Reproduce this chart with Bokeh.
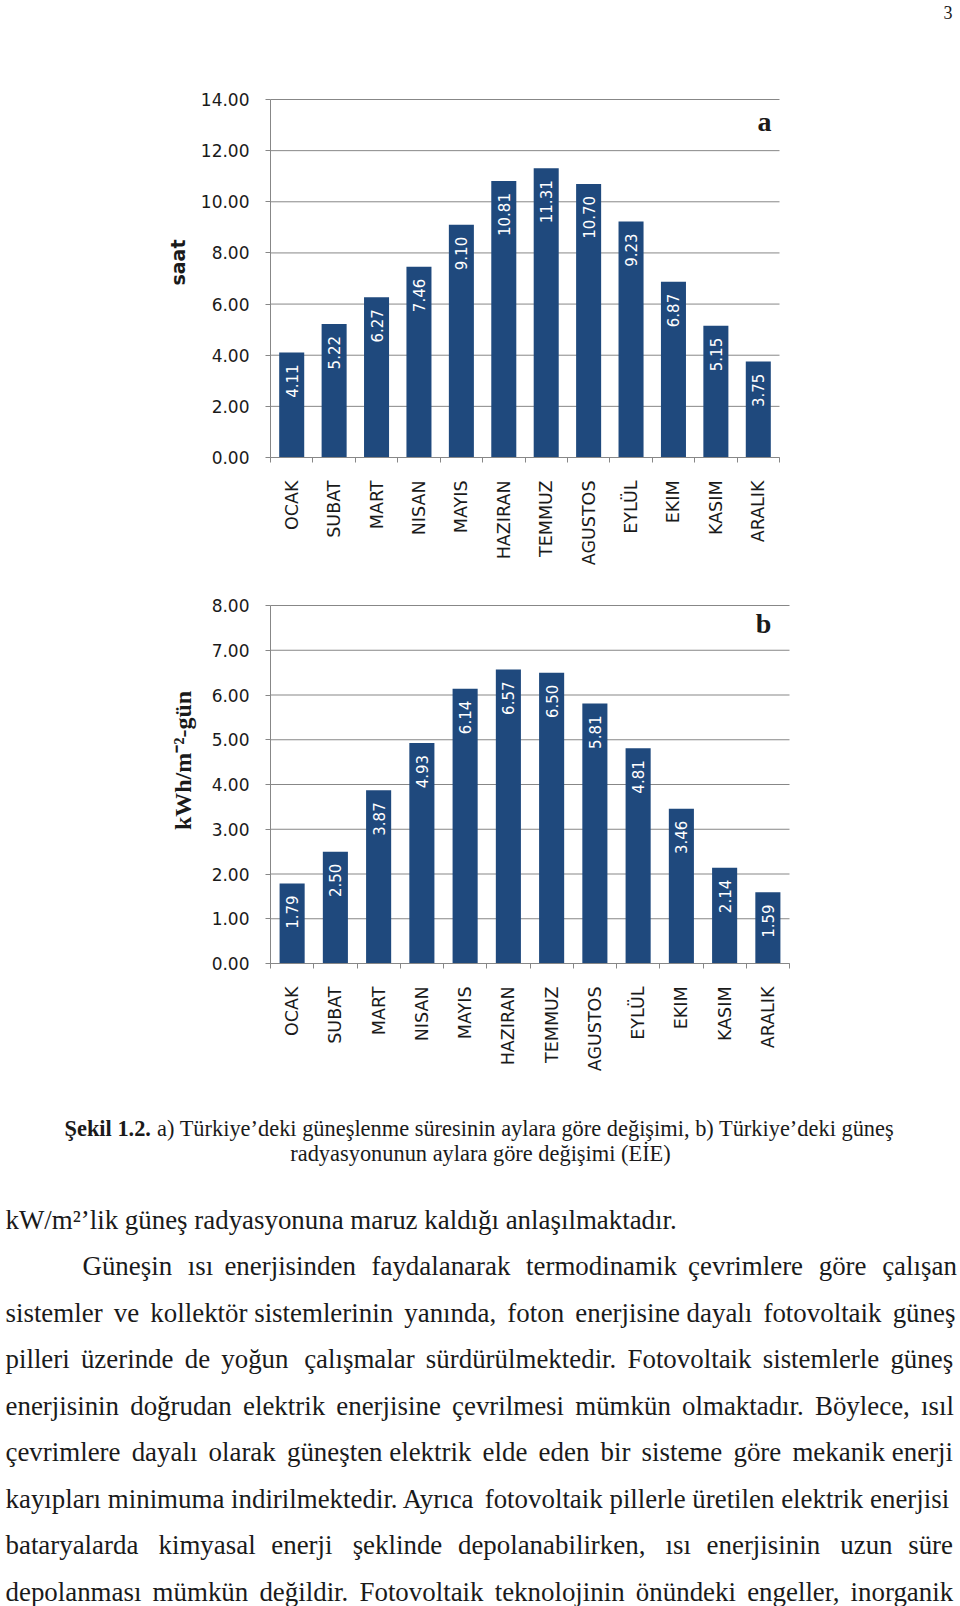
import numpy as np
from math import pi
from bokeh.plotting import figure
from bokeh.layouts import column
from bokeh.models import (Range1d, FixedTicker, PrintfTickFormatter, Label, ColumnDataSource,
                          LinearAxis)
from bokeh.core.properties import value
from bokeh.embed import file_html
from bokeh.resources import INLINE

# ---------------- data ----------------
months = ["OCAK", "SUBAT", "MART", "NISAN", "MAYIS", "HAZIRAN",
          "TEMMUZ", "AGUSTOS", "EYLÜL", "EKIM", "KASIM", "ARALIK"]
sunshine_hours = [4.11, 5.22, 6.27, 7.46, 9.10, 10.81, 11.31, 10.70, 9.23, 6.87, 5.15, 3.75]
radiation = [1.79, 2.50, 3.87, 4.93, 6.14, 6.57, 6.50, 5.81, 4.81, 3.46, 2.14, 1.59]
ticks_a = [0, 2, 4, 6, 8, 10, 12, 14]
ticks_b = [0, 1, 2, 3, 4, 5, 6, 7, 8]

page_number = "3"
caption_bold = "Şekil 1.2."
caption_line1 = "a) Türkiye’deki güneşlenme süresinin aylara göre değişimi, b) Türkiye’deki güneş"
caption_line2 = "radyasyonunun aylara göre değişimi (EİE)"
first_line = "kW/m²’lik güneş radyasyonuna maruz kaldığı anlaşılmaktadır."
body_lines = [
    "Güneşin ısı enerjisinden faydalanarak termodinamik çevrimlere göre çalışan",
    "sistemler ve kollektör sistemlerinin yanında, foton enerjisine dayalı fotovoltaik güneş",
    "pilleri üzerinde de yoğun çalışmalar sürdürülmektedir. Fotovoltaik sistemlerle güneş",
    "enerjisinin doğrudan elektrik enerjisine çevrilmesi mümkün olmaktadır. Böylece, ısıl",
    "çevrimlere dayalı olarak güneşten elektrik elde eden bir sisteme göre mekanik enerji",
    "kayıpları minimuma indirilmektedir. Ayrıca fotovoltaik pillerle üretilen elektrik enerjisi",
    "bataryalarda kimyasal enerji şeklinde depolanabilirken, ısı enerjisinin uzun süre",
    "depolanması mümkün değildir. Fotovoltaik teknolojinin önündeki engeller, inorganik",
]

# ---------------- styles ----------------
BAR = "#1f497d"
GRID = "#878787"
TXT = "#1a1a1a"
SANS = "DejaVu Sans"
SERIF = "Liberation Serif"
W = 960

# Times-like advance widths (per 1000 em) for justification
_w = {' ': 250, ',': 250, '.': 250, '(': 333, ')': 333, '’': 333, "'": 333, '/': 278, '-': 333, '²': 300}
for ch, w in zip("abcdefghijklmnopqrstuvwxyz",
                 [444, 500, 444, 500, 444, 333, 500, 500, 278, 278, 500, 278, 778,
                  500, 500, 500, 500, 333, 389, 278, 500, 500, 722, 500, 500, 444]):
    _w[ch] = w
for ch, w in zip("ABCDEFGHIJKLMNOPQRSTUVWXYZ",
                 [722, 667, 667, 722, 611, 556, 722, 722, 333, 389, 722, 611, 889,
                  722, 722, 556, 722, 667, 556, 611, 722, 722, 944, 722, 722, 611]):
    _w[ch] = w
_w.update({'ş': 389, 'ı': 278, 'ğ': 500, 'ü': 500, 'ö': 500, 'ç': 444,
           'Ş': 556, 'İ': 333, 'Ü': 722, 'Ö': 722, 'Ç': 667, 'Ğ': 722})


def text_em(s):
    return sum(_w.get(c, 500) for c in s) / 1000.0


def justify(line, width, size):
    words = line.split(" ")
    gaps = len(words) - 1
    deficit = width - text_em(line) * size
    unit = size / 6.0
    n_units = max(0.0, deficit / unit)
    out = words[0]
    prev = 0
    for i in range(gaps):
        cum = int(round(n_units * (i + 1) / gaps))
        out += " " + "\u2006" * (cum - prev) + words[i + 1]
        prev = cum
    return out


def bar_chart(vals, ticks, Y0, H, left_px, right_px, top_px, bottom_px, bar_w,
              letter, letter_px, ylabel, ylabel_px, ylabel_font, ylabel_size, ylabel_style):
    n = len(months)
    centers = [i + 0.5 for i in range(n)]
    bounds = [float(i) for i in range(n + 1)]
    ymax = ticks[-1]
    kx = (right_px - left_px) / n
    ky = (bottom_px - top_px) / ymax

    def fx(X):
        return (X - left_px) / kx

    def fy(Y):
        return (bottom_px - Y) / ky

    p = figure(width=W, height=H, x_range=Range1d(fx(0), fx(W)), y_range=Range1d(fy(Y0 + H), fy(Y0)),
               x_axis_type=None, y_axis_type=None, output_backend="svg", toolbar_location=None,
               title=None, min_border=0)
    p.outline_line_color = None
    p.background_fill_color = "white"

    # horizontal gridlines at the tick values
    p.segment(x0=0, x1=n, y0=ticks, y1=ticks, line_color=GRID, line_width=1)

    ya = LinearAxis(fixed_location=0, bounds=(0, ymax), ticker=FixedTicker(ticks=ticks),
                    formatter=PrintfTickFormatter(format="%.2f"))
    ya.axis_line_color = GRID
    ya.major_tick_line_color = GRID
    ya.major_tick_out = 5
    ya.major_tick_in = 0
    ya.minor_tick_line_color = None
    ya.major_label_standoff = 16
    ya.major_label_text_font = SANS
    ya.major_label_text_font_size = "17px"
    ya.major_label_text_color = TXT
    p.add_layout(ya, "left")

    xa = LinearAxis(fixed_location=0, bounds=(0, n),
                    ticker=FixedTicker(ticks=centers, minor_ticks=bounds))
    xa.major_label_overrides = {c: m for c, m in zip(centers, months)}
    xa.axis_line_color = GRID
    xa.major_tick_line_color = None
    xa.major_tick_out = 0
    xa.major_tick_in = 0
    xa.minor_tick_line_color = GRID
    xa.minor_tick_out = 5
    xa.minor_tick_in = 0
    xa.major_label_orientation = pi / 2
    xa.major_label_standoff = 18
    xa.major_label_text_font = SANS
    xa.major_label_text_font_size = "17.5px"
    xa.major_label_text_color = TXT
    p.add_layout(xa, "below")

    src = ColumnDataSource(dict(x=centers, y=vals, t=[f"{v:.2f}" for v in vals]))
    p.vbar(x="x", top="y", width=bar_w, source=src, fill_color=BAR, line_color=None)
    p.text(x="x", y="y", text="t", source=src, angle=pi / 2, text_align="right",
           text_baseline="middle", y_offset=12, text_color="white",
           text_font=value(SANS), text_font_size="15px")

    p.add_layout(Label(x=fx(letter_px[0]), y=fy(letter_px[1]), text=letter, text_font=SERIF,
                       text_font_style="bold", text_font_size="28px", text_color=TXT,
                       text_align="center", text_baseline="middle"))
    p.add_layout(Label(x=fx(ylabel_px[0]), y=fy(ylabel_px[1]), text=ylabel, text_font=ylabel_font,
                       text_font_style=ylabel_style, text_font_size=ylabel_size,
                       text_color=TXT, angle=pi / 2,
                       text_align="center", text_baseline="middle"))
    return p, fx, fy


pa, fxa, fya = bar_chart(sunshine_hours, ticks_a, Y0=0, H=580, left_px=270, right_px=779,
                         top_px=99, bottom_px=457, bar_w=0.59,
                         letter="a", letter_px=(764, 121),
                         ylabel="saat", ylabel_px=(177, 262), ylabel_font=SANS,
                         ylabel_size="19px", ylabel_style="bold")
pa.add_layout(Label(x=fxa(947.5), y=fya(12), text=page_number, text_font=SERIF,
                    text_font_size="18px", text_color=TXT,
                    text_align="center", text_baseline="middle"))

pb, _, _ = bar_chart(radiation, ticks_b, Y0=580, H=495, left_px=270, right_px=789,
                     top_px=605, bottom_px=963, bar_w=0.58,
                     letter="b", letter_px=(763, 623),
                     ylabel="kWh/m⁻²-gün", ylabel_px=(182, 760), ylabel_font=SERIF,
                     ylabel_size="24px", ylabel_style="bold")

# ---------------- caption and body text ----------------
pc = figure(width=W, height=531, x_range=Range1d(0, W), y_range=Range1d(1606, 1075),
            x_axis_type=None, y_axis_type=None, output_backend="svg", toolbar_location=None,
            title=None, min_border=0)
pc.outline_line_color = None

CAP = 22.4
pc.text(x=[64], y=[1128], text=[caption_bold], text_font=value(SERIF), text_font_style="bold",
        text_font_size=f"{CAP}px", text_align="left", text_baseline="middle", text_color=TXT)
pc.text(x=[894], y=[1128], text=[caption_line1], text_font=value(SERIF),
        text_font_size=f"{CAP}px", text_align="right", text_baseline="middle", text_color=TXT)
pc.text(x=[480], y=[1153], text=[caption_line2], text_font=value(SERIF),
        text_font_size=f"{CAP}px", text_align="center", text_baseline="middle", text_color=TXT)

BODY = 26.9
LEFT, RIGHT, INDENT = 5, 955, 82
y0, dy = 1219, 46.5
xs = [LEFT]
ys = [y0]
texts = [first_line]
for i, line in enumerate(body_lines):
    x0 = INDENT if i == 0 else LEFT
    xs.append(x0)
    ys.append(y0 + dy * (i + 1))
    texts.append(justify(line, RIGHT - x0, BODY))
pc.text(x=xs, y=ys, text=texts, text_font=value(SERIF), text_font_size=f"{BODY}px",
        text_align="left", text_baseline="middle", text_color=TXT)

layout = column(pa, pb, pc, spacing=0)
open("out.html", "w").write(file_html(layout, INLINE))
